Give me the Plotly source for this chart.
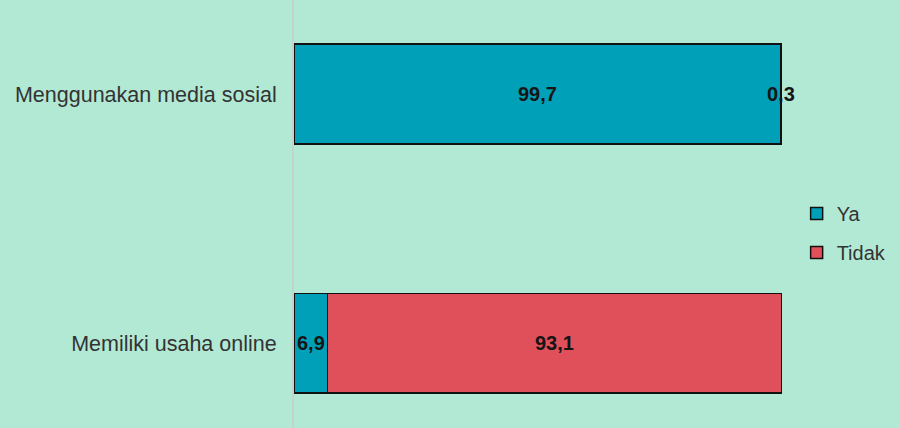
import plotly.graph_objects as go

categories = ["Memiliki usaha online", "Menggunakan media sosial"]
ya = [6.9, 99.7]
tidak = [93.1, 0.3]
ya_labels = ["6,9", "99,7"]
tidak_labels = ["93,1", "0,3"]

BG = "#b2e9d5"
C_YA = "#00a0b9"
C_TIDAK = "#e0505a"

fig = go.Figure()
fig.add_trace(go.Bar(y=categories, x=ya, orientation="h", name="Ya",
                     marker=dict(color=C_YA, line=dict(color="#111", width=1.5)),
                     width=0.4, legendgroup="a", hoverinfo="skip"))
fig.add_trace(go.Bar(y=categories, x=tidak, orientation="h", name="Tidak",
                     marker=dict(color=C_TIDAK, line=dict(color="#111", width=1.5)),
                     width=0.4, legendgroup="b", hoverinfo="skip"))

# value labels at segment centres
for i, c in enumerate(categories):
    fig.add_annotation(x=ya[i] / 2, y=c, text="<b>%s</b>" % ya_labels[i], showarrow=False,
                       font=dict(size=20, color="#151515", family="Liberation Sans"))
    fig.add_annotation(x=ya[i] + tidak[i] / 2, y=c, text="<b>%s</b>" % tidak_labels[i],
                       showarrow=False,
                       font=dict(size=20, color="#151515", family="Liberation Sans"))

fig.update_layout(
    barmode="stack",
    width=900, height=428,
    paper_bgcolor=BG, plot_bgcolor=BG,
    margin=dict(l=294, r=118, t=0, b=0),
    font=dict(family="Liberation Sans", size=20, color="#333"),
    showlegend=True,
    legend=dict(x=1.03, y=0.4556, xanchor="left", yanchor="middle",
                traceorder="grouped", tracegroupgap=10,
                font=dict(size=20, color="#333"), bgcolor="rgba(0,0,0,0)",
                itemwidth=30),
    xaxis=dict(range=[0, 100], showgrid=False, zeroline=False, showticklabels=False,
               showline=False, fixedrange=True),
    yaxis=dict(range=[-0.341, 1.3775], showgrid=False, zeroline=False,
               showline=True, linecolor="#c5d3cc", linewidth=2, fixedrange=True,
               ticklabelstandoff=11, tickfont=dict(size=21.5, color="#333")),
)

fig.write_html("out.html", config={"displayModeBar": False},
               post_script="document.body.style.margin='0';document.body.style.overflow='hidden';")
